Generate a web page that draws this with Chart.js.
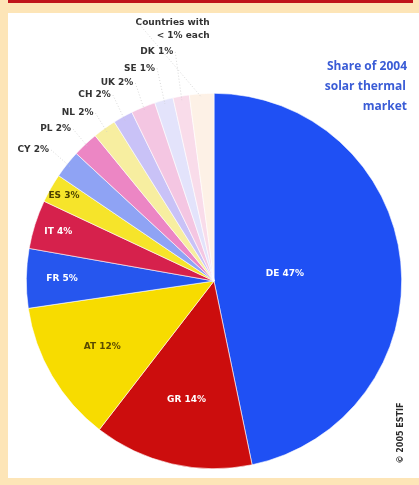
<!DOCTYPE html>
<html>
<head>
<meta charset="utf-8">
<script src="https://cdn.jsdelivr.net/npm/chart.js@4.4.0/dist/chart.umd.min.js"></script>
<style>
  html, body { margin: 0; padding: 0; }
  body { width: 419px; height: 485px; background: #fde5b7; position: relative; overflow: hidden; }
  #bar { position: absolute; left: 8px; top: 0; width: 405px; height: 3px; background: #c0141c; }
  #panel { position: absolute; left: 8px; top: 13px; width: 411px; height: 465px; background: #fff; }
  #wrap { position: absolute; left: 0; top: 0; width: 419px; height: 485px; }
</style>
</head>
<body>
<div id="bar"></div>
<div id="panel"></div>
<div id="wrap"><canvas id="pie-chart"></canvas></div>
<script>
const countries = ["DE", "GR", "AT", "FR", "IT", "ES", "CY", "PL", "NL", "CH", "UK", "SE", "DK", "Countries with < 1% each"];
const shares = [46.7, 13.7, 12.2, 5.1, 4.2, 2.5, 2.4, 2.2, 2.0, 1.7, 2.1, 1.6, 1.4, 2.1];
const shareLabels = ["DE 47%", "GR 14%", "AT 12%", "FR 5%", "IT 4%", "ES 3%", "CY 2%", "PL 2%", "NL 2%", "CH 2%", "UK 2%", "SE 1%", "DK 1%", "Countries with|< 1% each"];
const sliceColors = ["#1f50f4", "#cc0d0d", "#f7dc00", "#2656ee", "#d6214c", "#f6e42a", "#8fa3f4", "#ec86c4",
  "#f7eea0", "#c9c2f7", "#f4c6e2", "#e3e3fb", "#f9dcea", "#fdf1e6"];

// label layout: inside labels as a fraction of the radius, outside labels as extra pixels
const insideFraction = [0.38, 0.65, 0.69, 0.81, 0.87, 0.92];
const insideColors = ["#ffffff", "#ffffff", "#5a4a00", "#ffffff", "#ffffff", "#4a4000"];
const outsidePad = [23, 21, 19, 25, 26, 33, 45];

const labelPlugin = {
  id: "sliceLabels",
  afterDatasetsDraw(chart) {
    const ctx = chart.ctx;
    const arcs = chart.getDatasetMeta(0).data;
    ctx.save();
    ctx.font = "bold 9px 'DejaVu Sans', sans-serif";
    ctx.textBaseline = "middle";
    arcs.forEach((arc, i) => {
      const mid = (arc.startAngle + arc.endAngle) / 2;
      const cx = arc.x, cy = arc.y, r = arc.outerRadius;
      if (i < insideFraction.length) {
        const d = r * insideFraction[i];
        ctx.textAlign = "center";
        ctx.fillStyle = insideColors[i];
        ctx.fillText(shareLabels[i], cx + Math.cos(mid) * d, cy + Math.sin(mid) * d);
      } else if (i < insideFraction.length + outsidePad.length) {
        const d = r + outsidePad[i - insideFraction.length];
        const x = cx + Math.cos(mid) * d, y = cy + Math.sin(mid) * d;
        ctx.strokeStyle = "#c8c8c8";
        ctx.lineWidth = 0.7;
        ctx.setLineDash([1, 2]);
        ctx.beginPath();
        ctx.moveTo(x + 2, y);
        ctx.lineTo(cx + Math.cos(mid) * (r - 4), cy + Math.sin(mid) * (r - 4));
        ctx.stroke();
        ctx.setLineDash([]);
        ctx.textAlign = "right";
        ctx.fillStyle = "#333333";
        ctx.fillText(shareLabels[i], x, y);
      } else {
        // the small countries are grouped, label sits above the pie
        const lines = shareLabels[i].split("|");
        const x = cx + Math.cos(mid) * (r + 60);
        ctx.textAlign = "right";
        ctx.fillStyle = "#333333";
        ctx.fillText(lines[0], x + 12, cy - r - 71);
        ctx.fillText(lines[1], x + 12, cy - r - 58);
        ctx.strokeStyle = "#c8c8c8";
        ctx.lineWidth = 0.7;
        ctx.setLineDash([1, 2]);
        ctx.beginPath();
        ctx.moveTo(x - 60, cy - r - 71);
        ctx.lineTo(cx + Math.cos(mid) * (r - 4), cy + Math.sin(mid) * (r - 4));
        ctx.stroke();
        ctx.setLineDash([]);
      }
    });

    // title block
    ctx.font = "bold 12px 'Open Sans', sans-serif";
    ctx.fillStyle = "#3a5cd6";
    ctx.textAlign = "right";
    ctx.fillText("Share of 2004", 407, 67);
    ctx.fillText("solar thermal", 406, 87);
    ctx.fillText("market", 407, 107);

    // copyright, vertical
    ctx.translate(401, 433);
    ctx.rotate(-Math.PI / 2);
    ctx.font = "bold 8px 'DejaVu Sans', sans-serif";
    ctx.fillStyle = "#2a2a2a";
    ctx.textAlign = "center";
    ctx.fillText("\u00a9 2005 ESTIF", 0, 0);
    ctx.restore();
  },
};

const pieChart = new Chart(document.getElementById("pie-chart"), {
  type: "pie",
  data: {
    labels: countries,
    datasets: [
      {
        data: shares,
        backgroundColor: sliceColors,
        borderColor: "#ffffff",
        borderWidth: 0.6,
      },
    ],
  },
  options: {
    responsive: true,
    maintainAspectRatio: false,
    animation: false,
    layout: {
      padding: { left: 26, right: 17, top: 93, bottom: 16 },
    },
    plugins: {
      legend: { display: false },
      tooltip: { enabled: false },
    },
  },
  plugins: [labelPlugin],
});
</script>
</body>
</html>
